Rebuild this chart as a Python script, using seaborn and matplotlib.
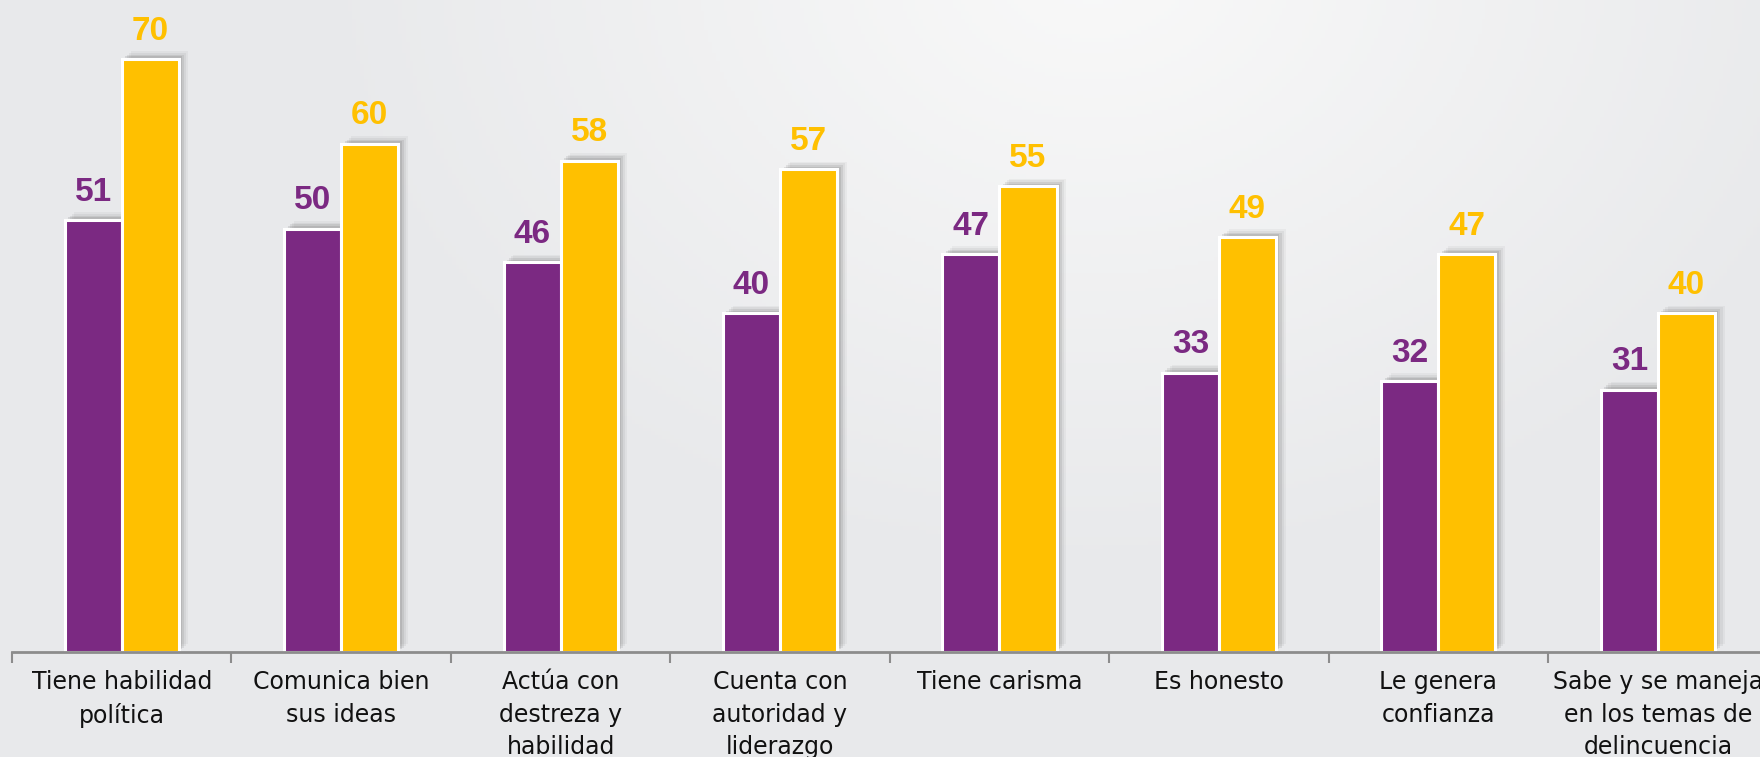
import numpy as np
import pandas as pd
import matplotlib
matplotlib.use("Agg")
import matplotlib.pyplot as plt
import matplotlib.patheffects as pe
import seaborn as sns

categories = ["Tiene habilidad\npolítica", "Comunica bien\nsus ideas", "Actúa con\ndestreza y\nhabilidad",
              "Cuenta con\nautoridad y\nliderazgo", "Tiene carisma", "Es honesto",
              "Le genera\nconfianza", "Sabe y se maneja\nen los temas de\ndelincuencia"]
serie_morada = [51, 50, 46, 40, 47, 33, 32, 31]
serie_amarilla = [70, 60, 58, 57, 55, 49, 47, 40]
series_names = ["Serie 1", "Serie 2"]

PURPLE = "#7B2982"
YELLOW = "#FFC000"

df = pd.DataFrame({
    "cat": categories * 2,
    "serie": [series_names[0]] * len(categories) + [series_names[1]] * len(categories),
    "valor": serie_morada + serie_amarilla,
})

sns.set_theme(style="white")
plt.rcParams['font.family'] = ['Liberation Sans', 'DejaVu Sans']

fig = plt.figure(figsize=(17.6, 7.57), dpi=100)

# background gradient
bg = fig.add_axes([0, 0, 1, 1], zorder=-10)
H, W = 200, 460
yy, xx = np.mgrid[0:H, 0:W]
cx, cy = 0.62 * W, -0.05 * H
d = np.sqrt(((xx - cx) / W) ** 2 + ((yy - cy) / H * 0.55) ** 2)
t = np.clip(d / 0.45, 0, 1)
c_light = np.array([249, 249, 249]) / 255
c_dark = np.array([232, 233, 235]) / 255
img = c_light[None, None, :] * (1 - t[..., None]) + c_dark[None, None, :] * t[..., None]
bg.imshow(img, aspect="auto", extent=[0, 1, 0, 1])
bg.axis("off")

ax = fig.add_axes([0.0068, 0.1387, 0.9975, 0.8613])
ax.patch.set_alpha(0)
sns.barplot(data=df, x="cat", y="valor", hue="serie", palette=[PURPLE, YELLOW],
            width=0.52, ax=ax, legend=False, edgecolor="white", linewidth=2.2, saturation=1)

shadow = [pe.SimplePatchShadow(offset=(o, o * 0.8), shadow_rgbFace="#5a5a5a", alpha=a)
          for o, a in [(7, 0.06), (5.5, 0.08), (4, 0.12), (2.5, 0.15)]] + [pe.Normal()]
for p in ax.patches:
    p.set_path_effects(shadow)

for cont, col in zip(ax.containers, [PURPLE, YELLOW]):
    ax.bar_label(cont, labels=[str(int(v)) for v in cont.datavalues], padding=9,
                 color=col, fontsize=24, fontweight="bold")

ax.set_ylim(0, 77)
ax.set_xlim(-0.5, 7.5)
ax.set_xlabel("")
ax.set_ylabel("")
ax.set_yticks([])
for s in ["top", "right", "left"]:
    ax.spines[s].set_visible(False)
ax.spines["bottom"].set_color("#8C8C8C")
ax.spines["bottom"].set_linewidth(2)
ax.set_xticks(np.arange(-0.5, 8.0, 1.0), minor=True)
ax.tick_params(axis="x", which="minor", length=8, width=1.5, color="#8C8C8C", bottom=True, direction="out")
ax.tick_params(axis="x", which="major", length=0, pad=13, labelcolor="#111111")
for lbl in ax.get_xticklabels():
    lbl.set_linespacing(1.45)
    lbl.set_fontfamily(["DejaVu Sans"])
    lbl.set_fontsize(17)

fig.savefig("out.png", dpi=100)
